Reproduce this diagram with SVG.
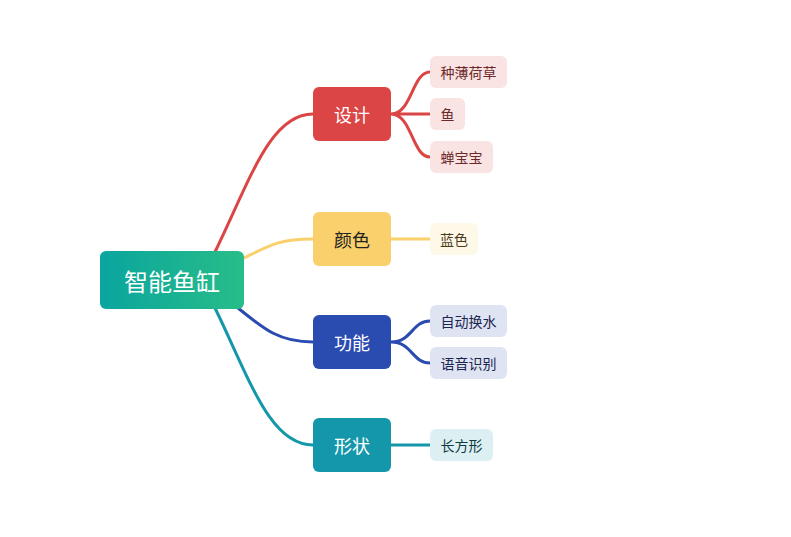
<svg xmlns="http://www.w3.org/2000/svg" width="791" height="537" viewBox="0 0 791 537">
<defs>
<linearGradient id="g" x1="0" x2="1" y1="0" y2="0"><stop offset="0" stop-color="#0aa59f"/><stop offset="1" stop-color="#28bd88"/></linearGradient>
<style>
text{font-family:"Noto Sans CJK SC","Liberation Sans",sans-serif;text-anchor:middle;dominant-baseline:central}
.c{fill:none;stroke-width:3;stroke-linecap:round}
.b{font-size:18px}
.l{font-size:14px}
</style>
</defs>
<rect width="791" height="537" fill="#fff"/>
<g id="connectors">
<path class="c" stroke="#db4545" d="M215,252 C250,180 270,114 313,114"/>
<path class="c" stroke="#fad06c" d="M244,258 C270,245 280,239 313,239"/>
<path class="c" stroke="#2a4baf" d="M238,308 C265,330 280,342 313,342"/>
<path class="c" stroke="#1497aa" d="M215,308 C250,380 270,445 313,445"/>
<path class="c" stroke="#db4545" d="M391,114 C412,114 412,72 430,72 M391,114 L430,114 M391,114 C412,114 412,157 430,157"/>
<path class="c" stroke="#fad06c" d="M391,239 L430,239"/>
<path class="c" stroke="#2a4baf" d="M391,342 C412,342 412,321 430,321 M391,342 C412,342 412,363 430,363"/>
<path class="c" stroke="#1497aa" d="M391,445 L430,445"/>
</g>
<g id="root"><rect x="100" y="251" width="144" height="58" rx="6" fill="url(#g)"/><text x="172" y="280" font-size="24" fill="#fff">智能鱼缸</text></g>
<g id="n1"><rect x="313" y="87" width="78" height="54" rx="6" fill="#db4545"/><text class="b" x="352" y="114" fill="#fff">设计</text></g>
<g id="n2"><rect x="313" y="212" width="78" height="54" rx="6" fill="#fad06c"/><text class="b" x="352" y="239" fill="#222">颜色</text></g>
<g id="n3"><rect x="313" y="315" width="78" height="54" rx="6" fill="#2a4baf"/><text class="b" x="352" y="342" fill="#fff">功能</text></g>
<g id="n4"><rect x="313" y="418" width="78" height="54" rx="6" fill="#1497aa"/><text class="b" x="352" y="445" fill="#fff">形状</text></g>
<g id="l1"><rect x="430" y="56" width="77" height="32" rx="6" fill="#fae3e3"/><text class="l" x="468.5" y="72" fill="#6b2a2a">种薄荷草</text></g>
<g id="l2"><rect x="430" y="98" width="35" height="32" rx="6" fill="#fae3e3"/><text class="l" x="447.5" y="114" fill="#6b2a2a">鱼</text></g>
<g id="l3"><rect x="430" y="141" width="63" height="32" rx="6" fill="#fae3e3"/><text class="l" x="461.5" y="157" fill="#6b2a2a">蝉宝宝</text></g>
<g id="l4"><rect x="430" y="223" width="48" height="32" rx="6" fill="#fef8e9"/><text class="l" x="454" y="239" fill="#4a3a1a">蓝色</text></g>
<g id="l5"><rect x="430" y="305" width="77" height="32" rx="6" fill="#dfe4f3"/><text class="l" x="468.5" y="321" fill="#1a2550">自动换水</text></g>
<g id="l6"><rect x="430" y="347" width="77" height="32" rx="6" fill="#dfe4f3"/><text class="l" x="468.5" y="363" fill="#1a2550">语音识别</text></g>
<g id="l7"><rect x="430" y="429" width="63" height="32" rx="6" fill="#dcf0f3"/><text class="l" x="461.5" y="445" fill="#0e3a40">长方形</text></g>
</svg>
